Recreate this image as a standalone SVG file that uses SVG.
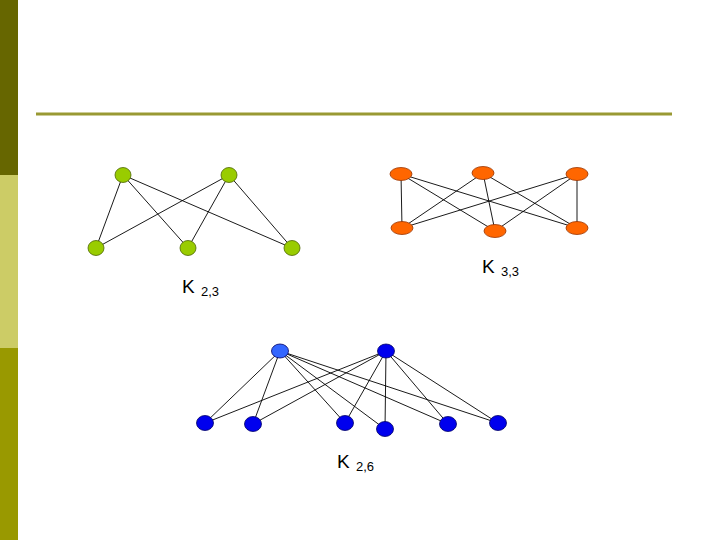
<svg xmlns="http://www.w3.org/2000/svg" width="720" height="540" viewBox="0 0 720 540">
<style>
.e{stroke:#000;stroke-width:0.9;fill:none}
.g{fill:#99CC00;stroke:#4D6600;stroke-width:0.8}
.o{fill:#FF6600;stroke:#993300;stroke-width:0.8}
.b{fill:#0000EE;stroke:#000066;stroke-width:0.8}
.lb{fill:#3366FF;stroke:#000066;stroke-width:0.8}
.k{font-family:"Liberation Sans",Arial,sans-serif;font-size:19px;fill:#000}
.s{font-size:13px}
</style>
<rect width="720" height="540" fill="#FFFFFF"/>
<g id="sidebar">
<rect x="0" y="0" width="18" height="175" fill="#666600"/>
<rect x="0" y="175" width="18" height="173" fill="#CCCC66"/>
<rect x="0" y="348" width="18" height="192" fill="#999900"/>
</g>
<line x1="36" y1="114" x2="672" y2="114" stroke="#999933" stroke-width="3"/>
<g id="connectors">
<line class="e" x1="123" y1="175" x2="96" y2="248"/>
<line class="e" x1="123" y1="175" x2="188" y2="248"/>
<line class="e" x1="123" y1="175" x2="292" y2="248"/>
<line class="e" x1="229" y1="175" x2="96" y2="248"/>
<line class="e" x1="229" y1="175" x2="188" y2="248"/>
<line class="e" x1="229" y1="175" x2="292" y2="248"/>
<line class="e" x1="401" y1="174" x2="402" y2="228"/>
<line class="e" x1="401" y1="174" x2="495" y2="231"/>
<line class="e" x1="401" y1="174" x2="577" y2="228"/>
<line class="e" x1="483" y1="173" x2="402" y2="228"/>
<line class="e" x1="483" y1="173" x2="495" y2="231"/>
<line class="e" x1="483" y1="173" x2="577" y2="228"/>
<line class="e" x1="577" y1="174" x2="402" y2="228"/>
<line class="e" x1="577" y1="174" x2="495" y2="231"/>
<line class="e" x1="577" y1="174" x2="577" y2="228"/>
<line class="e" x1="280" y1="351" x2="205" y2="423"/>
<line class="e" x1="280" y1="351" x2="253" y2="424"/>
<line class="e" x1="280" y1="351" x2="345" y2="423"/>
<line class="e" x1="280" y1="351" x2="385" y2="429"/>
<line class="e" x1="280" y1="351" x2="448" y2="424"/>
<line class="e" x1="280" y1="351" x2="498" y2="423"/>
<line class="e" x1="386" y1="351" x2="205" y2="423"/>
<line class="e" x1="386" y1="351" x2="253" y2="424"/>
<line class="e" x1="386" y1="351" x2="345" y2="423"/>
<line class="e" x1="386" y1="351" x2="385" y2="429"/>
<line class="e" x1="386" y1="351" x2="448" y2="424"/>
<line class="e" x1="386" y1="351" x2="498" y2="423"/>
</g>
<g id="k23">
<g id="k23-t1"><ellipse class="g" cx="123" cy="175" rx="8" ry="7.5"/></g>
<g id="k23-t2"><ellipse class="g" cx="229" cy="175" rx="8" ry="7.5"/></g>
<g id="k23-b1"><ellipse class="g" cx="96" cy="248" rx="8" ry="7.5"/></g>
<g id="k23-b2"><ellipse class="g" cx="188" cy="248" rx="8" ry="7.5"/></g>
<g id="k23-b3"><ellipse class="g" cx="292" cy="248" rx="8" ry="7.5"/></g>
<text class="k" x="182" y="293">K <tspan class="s" dx="1" dy="3">2,3</tspan></text>
</g>
<g id="k33">
<g id="k33-t1"><ellipse class="o" cx="401" cy="174" rx="11" ry="6.5"/></g>
<g id="k33-t2"><ellipse class="o" cx="483" cy="173" rx="11" ry="6.5"/></g>
<g id="k33-t3"><ellipse class="o" cx="577" cy="174" rx="11" ry="6.5"/></g>
<g id="k33-b1"><ellipse class="o" cx="402" cy="228" rx="11" ry="6.5"/></g>
<g id="k33-b2"><ellipse class="o" cx="495" cy="231" rx="11" ry="6.5"/></g>
<g id="k33-b3"><ellipse class="o" cx="577" cy="228" rx="11" ry="6.5"/></g>
<text class="k" x="482" y="273">K <tspan class="s" dx="1" dy="3">3,3</tspan></text>
</g>
<g id="k26">
<g id="k26-t1"><ellipse class="lb" cx="280" cy="351" rx="8.5" ry="7"/></g>
<g id="k26-t2"><ellipse class="b" cx="386" cy="351" rx="8.5" ry="7"/></g>
<g id="k26-b1"><ellipse class="b" cx="205" cy="423" rx="8.5" ry="7.5"/></g>
<g id="k26-b2"><ellipse class="b" cx="253" cy="424" rx="8.5" ry="7.5"/></g>
<g id="k26-b3"><ellipse class="b" cx="345" cy="423" rx="8.5" ry="7.5"/></g>
<g id="k26-b4"><ellipse class="b" cx="385" cy="429" rx="8.5" ry="7.5"/></g>
<g id="k26-b5"><ellipse class="b" cx="448" cy="424" rx="8.5" ry="7.5"/></g>
<g id="k26-b6"><ellipse class="b" cx="498" cy="423" rx="8.5" ry="7.5"/></g>
<text class="k" x="337" y="468">K <tspan class="s" dx="1" dy="3">2,6</tspan></text>
</g>
</svg>
